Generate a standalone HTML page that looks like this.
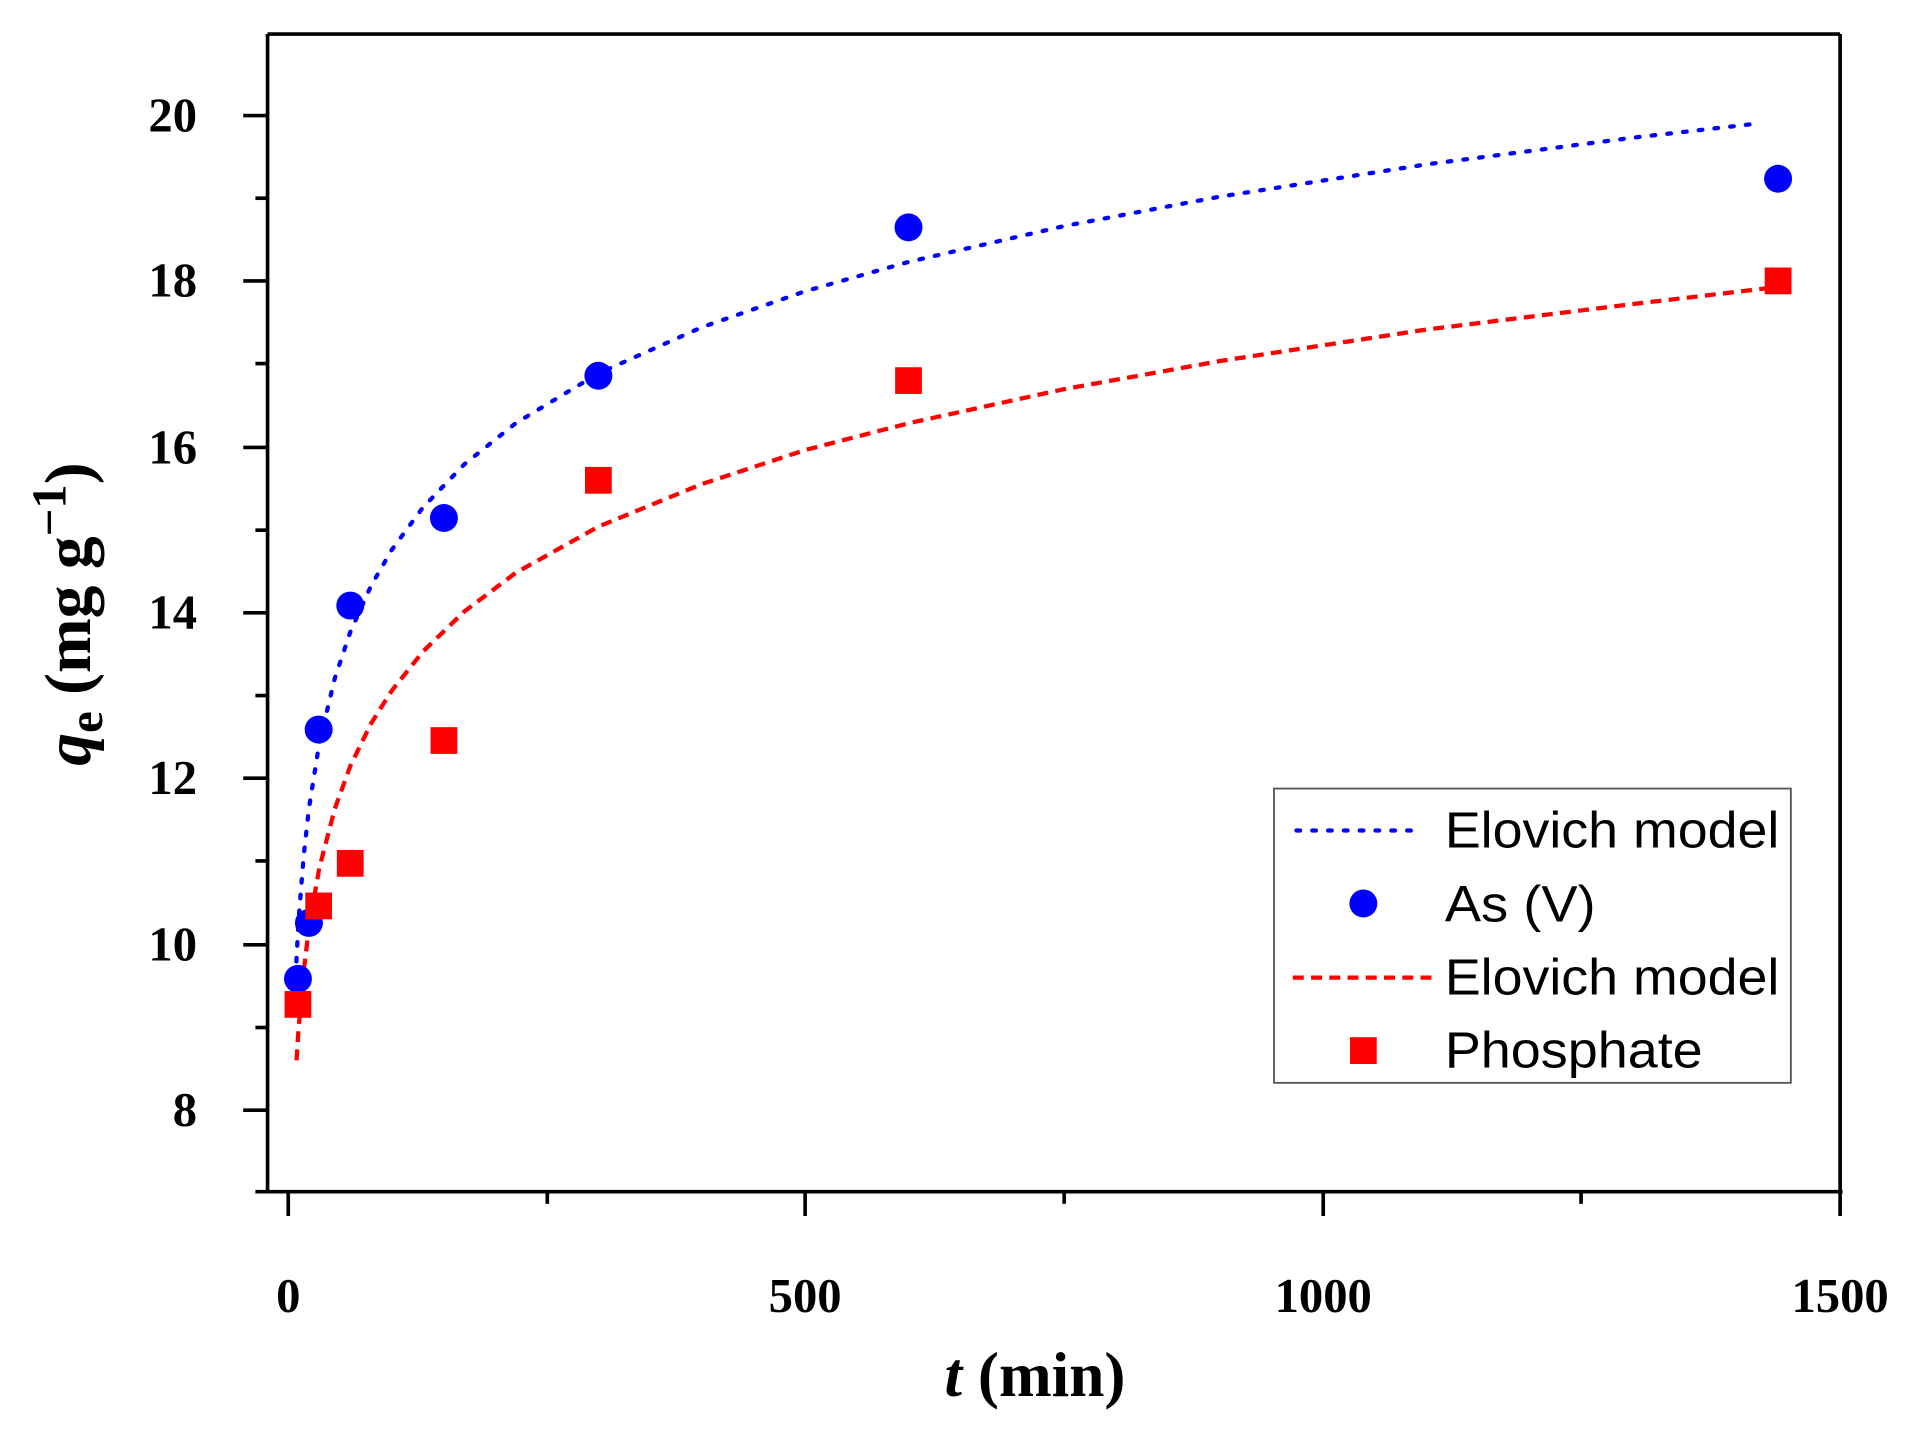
<!DOCTYPE html>
<html><head><meta charset="utf-8"><style>html,body{margin:0;padding:0;background:#fff}svg{display:block}</style></head>
<body>
<svg width="1907" height="1430" viewBox="0 0 1568 1176" preserveAspectRatio="none" xmlns="http://www.w3.org/2000/svg">
<g stroke="#000" stroke-width="3" fill="none">
<line x1="220" y1="28" x2="220" y2="981"/>
<line x1="210" y1="980" x2="1515" y2="980"/>
<line x1="220" y1="28" x2="1513" y2="28"/>
<line x1="1513" y1="28" x2="1513" y2="981"/>
<line x1="237" y1="980" x2="237" y2="1000"/>
<line x1="662" y1="980" x2="662" y2="1000"/>
<line x1="1088" y1="980" x2="1088" y2="1000"/>
<line x1="1513" y1="980" x2="1513" y2="1000"/>
<line x1="450" y1="980" x2="450" y2="990"/>
<line x1="875" y1="980" x2="875" y2="990"/>
<line x1="1300" y1="980" x2="1300" y2="990"/>
<line x1="200" y1="95" x2="220" y2="95"/>
<line x1="200" y1="231" x2="220" y2="231"/>
<line x1="200" y1="368" x2="220" y2="368"/>
<line x1="200" y1="504" x2="220" y2="504"/>
<line x1="200" y1="640" x2="220" y2="640"/>
<line x1="200" y1="777" x2="220" y2="777"/>
<line x1="200" y1="913" x2="220" y2="913"/>
<line x1="210" y1="163" x2="220" y2="163"/>
<line x1="210" y1="299" x2="220" y2="299"/>
<line x1="210" y1="436" x2="220" y2="436"/>
<line x1="210" y1="572" x2="220" y2="572"/>
<line x1="210" y1="708" x2="220" y2="708"/>
<line x1="210" y1="845" x2="220" y2="845"/>
</g>
<g font-family="Liberation Serif, serif" font-weight="bold" font-size="40" fill="#000">
<g text-anchor="end">
<text x="162" y="108">20</text>
<text x="162" y="244">18</text>
<text x="162" y="381">16</text>
<text x="162" y="517">14</text>
<text x="162" y="653">12</text>
<text x="162" y="790">10</text>
<text x="162" y="926">8</text>
</g>
<g text-anchor="middle">
<text x="237" y="1079">0</text>
<text x="662" y="1079">500</text>
<text x="1088" y="1079">1000</text>
<text x="1513" y="1079">1500</text>
</g>
<text x="851" y="1148" text-anchor="middle" font-size="52"><tspan font-style="italic">t</tspan> (min)</text>
<text transform="translate(74,505) rotate(-90)" text-anchor="middle" font-size="54"><tspan font-style="italic">q</tspan><tspan font-size="40" dy="10">e</tspan><tspan dy="-10"> (mg g</tspan><tspan font-size="40" dy="-20">−1</tspan><tspan dy="20">)</tspan></text>
</g>
<polyline fill="none" stroke="#0000ff" stroke-width="3.5" stroke-dasharray="3,10" stroke-linecap="round" points="243,803.7 245.5,756.5 249.8,702.9 254,664.9 262.5,611.4 275.3,557.7 288,519.8 305.1,481.7 322.1,452.2 347.6,417.5 381.6,382 424.2,347.9 492.2,307 577.3,269 662.4,239.4 747.4,215.3 875,185.9 1002.6,161.8 1172.8,135.2 1342.9,113.2 1445,101.6"/>
<polyline fill="none" stroke="#ff0000" stroke-width="3.5" stroke-dasharray="9,6" points="243.8,872 245.5,846 249.8,798 254,763 262.5,714 275.3,665 288,630 305.1,595 322.1,568 347.6,536 381.6,503 424.2,471 492.2,433 577.3,398 662.4,370 747.4,348 875,320 1002.6,297 1172.8,271 1342.9,250 1462,236"/>
<g fill="#0000ff">
<circle cx="245" cy="805" r="11.5"/>
<circle cx="254" cy="759" r="11.5"/>
<circle cx="262" cy="600" r="11.5"/>
<circle cx="288" cy="498" r="11.5"/>
<circle cx="365" cy="426" r="11.5"/>
<circle cx="492" cy="309" r="11.5"/>
<circle cx="747" cy="187" r="11.5"/>
<circle cx="1462" cy="147" r="11.5"/>
</g>
<g fill="#ff0000">
<rect x="234" y="815" width="22" height="22"/>
<rect x="251" y="734" width="22" height="22"/>
<rect x="277" y="699" width="22" height="22"/>
<rect x="354" y="598" width="22" height="22"/>
<rect x="481" y="384" width="22" height="22"/>
<rect x="736" y="302" width="22" height="22"/>
<rect x="1451" y="220" width="22" height="22"/>
</g>
<rect x="1047.5" y="648.5" width="425" height="242" fill="#fff" stroke="#555" stroke-width="1.5"/>
<line x1="1066" y1="683" x2="1160" y2="683" stroke="#0000ff" stroke-width="3.5" stroke-dasharray="3,10" stroke-linecap="round"/>
<circle cx="1121" cy="743" r="11.5" fill="#0000ff"/>
<line x1="1063" y1="804" x2="1178" y2="804" stroke="#ff0000" stroke-width="3.5" stroke-dasharray="9,6"/>
<rect x="1110" y="853" width="22" height="22" fill="#ff0000"/>
<g font-family="Liberation Sans, sans-serif" font-size="42" fill="#000">
<text x="1188" y="697" textLength="275" lengthAdjust="spacingAndGlyphs">Elovich model</text>
<text x="1188" y="758" textLength="124" lengthAdjust="spacingAndGlyphs">As (V)</text>
<text x="1188" y="818" textLength="275" lengthAdjust="spacingAndGlyphs">Elovich model</text>
<text x="1188" y="878" textLength="212" lengthAdjust="spacingAndGlyphs">Phosphate</text>
</g>
</svg>
</body></html>
